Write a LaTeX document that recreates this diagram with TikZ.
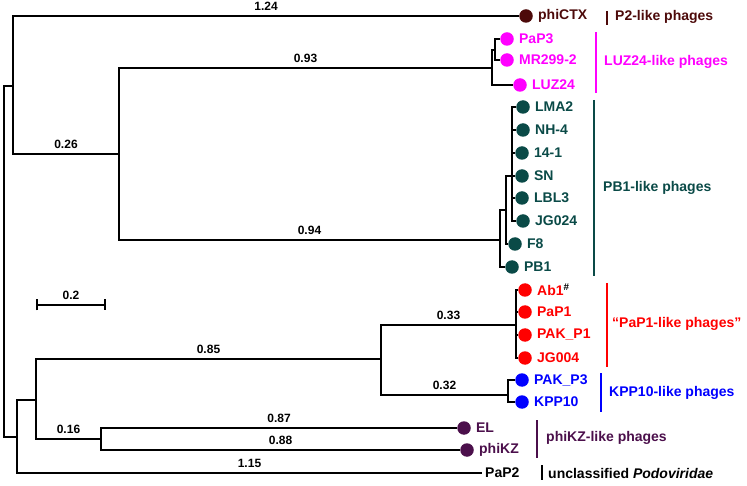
\documentclass[tikz,border=0pt]{standalone}
\usepackage{fontspec}
\setmainfont{Liberation Sans}
\usetikzlibrary{arrows.meta,positioning}

\definecolor{ctxred}{HTML}{4D0A0A}
\definecolor{luzpink}{HTML}{FF00FF}
\definecolor{pbteal}{HTML}{0A4A47}
\definecolor{papred}{HTML}{FF0000}
\definecolor{kppblue}{HTML}{0000FF}
\definecolor{kzpurple}{HTML}{4B0F4B}

\begin{document}
\begin{tikzpicture}[
    x=1pt, y=-1pt,
    font=\bfseries,
    branch/.style={line width=2pt, draw=black},
    dot/.style={circle, fill=#1, inner sep=0pt, minimum size=13.5pt},
    leaf/.style={text=#1, font=\fontsize{14}{16}\selectfont\bfseries, inner sep=2pt},
    blen/.style={font=\fontsize{12}{14}\selectfont\bfseries, above=3pt,
                 inner sep=1.5pt, pos=0.75},
    groupbar/.style={line width=1.7pt, draw=#1},
    grouptext/.style={text=#1, font=\fontsize{14}{16}\selectfont\bfseries,
                      anchor=west, inner sep=0pt}
]
\useasboundingbox (0,0) rectangle (747,486);

% internal nodes of the tree
\coordinate (root) at (4,262);
\coordinate (n1) at (13,86);
\coordinate (n2) at (119,154);
\coordinate (luz) at (492,68);
\coordinate (pap3n) at (495,50);
\coordinate (pba) at (500,240);
\coordinate (pbb) at (506,210);
\coordinate (pbc) at (512,176);
\coordinate (n3) at (17,437);
\coordinate (n4) at (36,400);
\coordinate (n5) at (381,359);
\coordinate (pap1n) at (516,325);
\coordinate (kppn) at (508,395);
\coordinate (kzn) at (101,439);

% leaves
\node[dot=ctxred] (phiCTX) at (526,16) {};
\node[leaf=ctxred, right=3pt of phiCTX] (phiCTX-t) {phiCTX};

\node[dot=luzpink] (pap3) at (507,39) {};
\node[leaf=luzpink, right=3pt of pap3] (pap3-t) {PaP3};
\node[dot=luzpink] (mr) at (507,60) {};
\node[leaf=luzpink, right=3pt of mr] (mr-t) {MR299-2};
\node[dot=luzpink] (luz24) at (520,85) {};
\node[leaf=luzpink, right=3pt of luz24] (luz24-t) {LUZ24};

\foreach \n/\lab/\x/\y in {lma/LMA2/523/107, nh/NH-4/523/130, p141/14-1/522/153,
                           sn/SN/522/176, lbl/LBL3/522/198, jg24/JG024/523/221} {
  \node[dot=pbteal] (\n) at (\x,\y) {};
  \node[leaf=pbteal, right=3pt of \n] (\n-t) {\lab};
  \draw[branch] (pbc) |- (\n.west);
}
\node[dot=pbteal] (f8) at (515,244) {};
\node[leaf=pbteal, right=3pt of f8] (f8-t) {F8};
\node[dot=pbteal] (pb1) at (512,267) {};
\node[leaf=pbteal, right=3pt of pb1] (pb1-t) {PB1};

\node[dot=papred] (ab1) at (525,290) {};
\node[leaf=papred, right=3pt of ab1] (ab1-t) {Ab1\textsuperscript{\color{black}\#}};
\foreach \n/\lab/\y in {pap1/PaP1/312, pakp1/PAK\_P1/335, jg004/JG004/358} {
  \node[dot=papred] (\n) at (525,\y) {};
  \node[leaf=papred, right=3pt of \n] (\n-t) {\lab};
  \draw[branch] (pap1n) |- (\n.west);
}

\node[dot=kppblue] (pakp3) at (522,380) {};
\node[leaf=kppblue, right=3pt of pakp3] (pakp3-t) {PAK\_P3};
\node[dot=kppblue] (kpp10) at (522,402) {};
\node[leaf=kppblue, right=3pt of kpp10] (kpp10-t) {KPP10};

\node[dot=kzpurple] (el) at (464,428) {};
\node[leaf=kzpurple, right=3pt of el] (el-t) {EL};
\node[dot=kzpurple] (phikz) at (467,450) {};
\node[leaf=kzpurple, right=3pt of phikz] (phikz-t) {phiKZ};

\node[leaf=black, anchor=west, inner sep=3pt] (pap2) at (482,473) {PaP2};

% branches
\draw[branch] (root) |- (n1);
\draw[branch] (root) |- (n3);
\draw[branch] (n1) |- node[blen] {1.24} (phiCTX.west);
\draw[branch] (n1) |- node[blen] {0.26} (n2);
\draw[branch] (n2) |- node[blen] {0.93} (luz);
\draw[branch] (n2) |- node[blen] {0.94} (pba);
\draw[branch] (luz) |- (pap3n);
\draw[branch] (luz) |- (luz24.west);
\draw[branch] (pap3n) |- (pap3.west);
\draw[branch] (pap3n) |- (mr.west);
\draw[branch] (pba) |- (pbb);
\draw[branch] (pba) |- (pb1.west);
\draw[branch] (pbb) |- (pbc);
\draw[branch] (pbb) |- (f8.west);
\draw[branch] (n3) |- (n4);
\draw[branch] (n3) |- node[blen] {1.15} (pap2.west);
\draw[branch] (n4) |- node[blen] {0.85} (n5);
\draw[branch] (n4) |- node[blen] {0.16} (kzn);
\draw[branch] (n5) |- node[blen] {0.33} (pap1n);
\draw[branch] (n5) |- node[blen] {0.32} (kppn);
\draw[branch] (pap1n) |- (ab1.west);
\draw[branch] (kppn) |- (pakp3.west);
\draw[branch] (kppn) |- (kpp10.west);
\draw[branch] (kzn) |- node[blen] {0.87} (el.west);
\draw[branch] (kzn) |- node[blen] {0.88} (phikz.west);

% scale bar
\coordinate (sbl) at (36,305);
\coordinate (sbr) at (106,305);
\draw[branch, {Bar[width=11pt]}-{Bar[width=11pt]}] (sbl) -- node[blen, pos=0.5] {0.2} (sbr);

% groups
\draw[groupbar=ctxred] (607,11) -- (607,25);
\node[grouptext=ctxred] (p2group) at (615,17) {P2-like phages};
\draw[groupbar=luzpink] (596,32) -- (596,93);
\node[grouptext=luzpink] (luzgroup) at (604,62) {LUZ24-like phages};
\draw[groupbar=pbteal] (594,100) -- (594,276);
\node[grouptext=pbteal] (pbgroup) at (603,188) {PB1-like phages};
\draw[groupbar=papred] (607,283) -- (607,367);
\node[grouptext=papred] (papgroup) at (612,324) {“PaP1-like phages”};
\draw[groupbar=kppblue] (601,373) -- (601,412);
\node[grouptext=kppblue] (kppgroup) at (609,393) {KPP10-like phages};
\draw[groupbar=kzpurple] (537,420) -- (537,458);
\node[grouptext=kzpurple] (kzgroup) at (546,438) {phiKZ-like phages};
\draw[groupbar=black] (542,465) -- (542,480);
\node[grouptext=black] (uncgroup) at (548,473) {unclassified \textit{Podoviridae}};

\end{tikzpicture}
\end{document}
